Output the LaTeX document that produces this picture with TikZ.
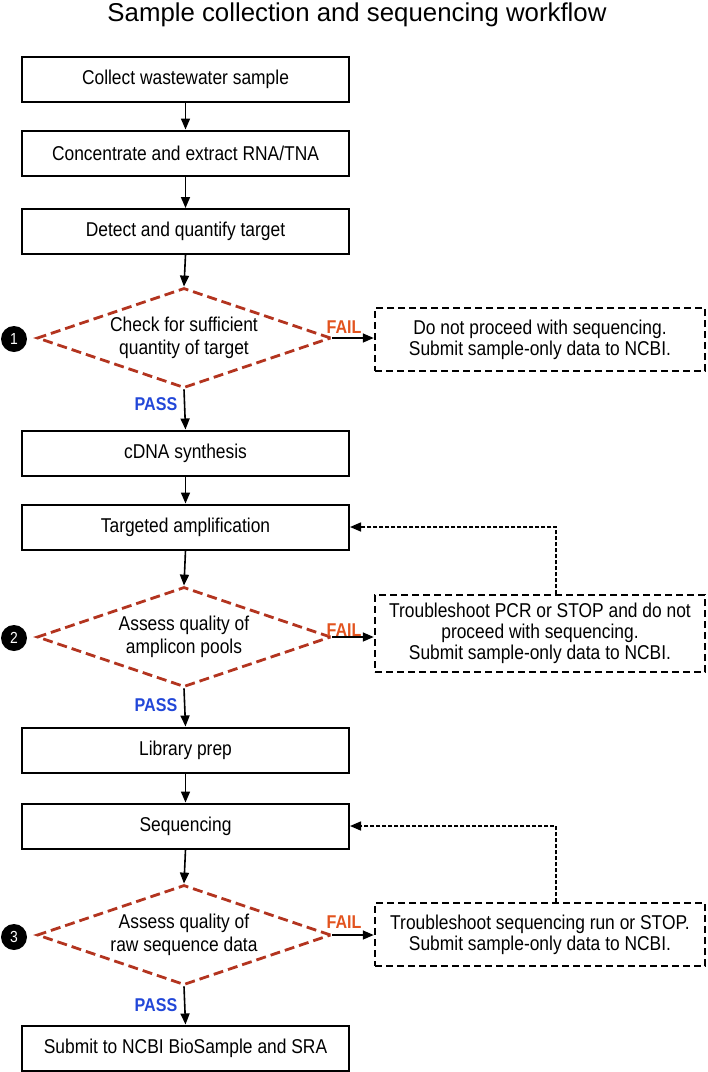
\documentclass[tikz,border=0pt]{standalone}
\usepackage{fontspec}
\setmainfont{Liberation Sans}[FakeStretch=0.87]
\newfontfamily\titlefont{Liberation Sans}
\usetikzlibrary{shapes.geometric,arrows.meta}
\tikzstyle{none}=[inner sep=0pt]
\definecolor{hexcolor0xb3341f}{rgb}{0.702,0.204,0.122}
\definecolor{hexcolor0xe2531e}{rgb}{0.886,0.325,0.118}
\definecolor{hexcolor0x2247d8}{rgb}{0.133,0.278,0.847}
\definecolor{myblack}{rgb}{0.000,0.000,0.000}
\definecolor{mywhite}{rgb}{1.000,1.000,1.000}
\tikzstyle{proc}=[rectangle,draw=myblack,fill=mywhite,line width=2pt,minimum width=327pt,minimum height=45pt,inner sep=0pt,font=\fontsize{20}{22}\selectfont]
\tikzstyle{check}=[diamond,draw=hexcolor0xb3341f,dash pattern=on 10pt off 5pt,line width=2.8pt,aspect=2.94,minimum width=294pt,minimum height=100pt,inner sep=0pt,align=center,font=\fontsize{20}{23}\selectfont]
\tikzstyle{stopbox}=[rectangle,draw=myblack,dash pattern=on 7pt off 4pt,line width=2.5pt,minimum width=330pt,inner sep=0pt,align=center,font=\fontsize{20}{21}\selectfont]
\tikzstyle{badge}=[circle,fill=myblack,text=mywhite,minimum size=26pt,inner sep=0pt,font=\fontsize{16}{16}\selectfont]
\tikzstyle{fail}=[inner sep=0pt,text=hexcolor0xe2531e,font=\fontsize{18.5}{18}\selectfont\bfseries]
\tikzstyle{pass}=[inner sep=0pt,text=hexcolor0x2247d8,font=\fontsize{18.5}{18}\selectfont\bfseries]
\tikzstyle{flow}=[line width=1.6pt,-{Triangle[length=11pt,width=9pt]}]
\tikzstyle{back}=[line width=1.5pt,dash pattern=on 4pt off 2pt,-{Triangle[length=11pt,width=9pt]}]

\begin{document}
\begin{tikzpicture}[x=1pt,y=-1pt]
\useasboundingbox (0,0) rectangle (708,1072);
	\node [none] (0) at (357,15) {\titlefont\fontsize{25.8}{26}\selectfont Sample collection and sequencing workflow};
	% main column
		\node [style=proc] (1) at (185.5,79) {Collect wastewater sample};
		\node [style=proc] (2) at (185.5,153) {Concentrate and extract RNA/TNA};
		\node [style=proc] (3) at (185.5,231.5) {Detect and quantify target};
		\node [style=check] (4) at (184,338) {Check for sufficient\\quantity of target};
		\node [style=proc] (7) at (185.5,453) {cDNA synthesis};
		\node [style=proc] (8) at (185.5,527) {Targeted amplification};
		\node [style=check] (9) at (184,637) {Assess quality of\\amplicon pools};
		\node [style=proc] (12) at (185.5,750) {Library prep};
		\node [style=proc] (13) at (185.5,826) {Sequencing};
		\node [style=check] (14) at (184,935) {Assess quality of\\raw sequence data};
		\node [style=proc] (17) at (185.5,1048) {Submit to NCBI BioSample and SRA};
	% fail boxes
		\node [style=stopbox,minimum height=63pt] (5) at (540,339.5) {Do not proceed with sequencing.\\Submit sample-only data to NCBI.};
		\node [style=stopbox,minimum height=77pt] (10) at (540,633.5) {Troubleshoot PCR or STOP and do not\\proceed with sequencing.\\Submit sample-only data to NCBI.};
		\node [style=stopbox,minimum height=63pt] (15) at (540,934.5) {Troubleshoot sequencing run or STOP.\\Submit sample-only data to NCBI.};
	% numbers
		\node [style=badge] (6) at (14,339) {1};
		\node [style=badge] (11) at (14,638) {2};
		\node [style=badge] (16) at (14,937) {3};
	% labels
		\node [style=fail] (f1) at (344,327) {FAIL};
		\node [style=fail] (f2) at (344,630) {FAIL};
		\node [style=fail] (f3) at (344,922) {FAIL};
		\node [style=pass] (p1) at (156,404) {PASS};
		\node [style=pass] (p2) at (156,705) {PASS};
		\node [style=pass] (p3) at (156,1005) {PASS};
	% edges
		\draw [style=flow] (1) to (2);
		\draw [style=flow] (2) to (3);
		\draw [style=flow] (3.south) to (4.north);
		\draw [style=flow] (4.south) to (7.north);
		\draw [style=flow] (7) to (8);
		\draw [style=flow] (8.south) to (9.north);
		\draw [style=flow] (9.south) to (12.north);
		\draw [style=flow] (12) to (13);
		\draw [style=flow] (13.south) to (14.north);
		\draw [style=flow] (14.south) to (17.north);
		\draw [style=flow] (4.east) to (4.east -| 5.west);
		\draw [style=flow] (9.east) to (9.east -| 10.west);
		\draw [style=flow] (14.east) to (14.east -| 15.west);
\node [none] (v1) at (556,595) {};
\node [none] (v2) at (556,903) {};
\draw [style=back] (v1) |- (8);
\draw [style=back] (v2) |- (13);
\end{tikzpicture}
\end{document}
